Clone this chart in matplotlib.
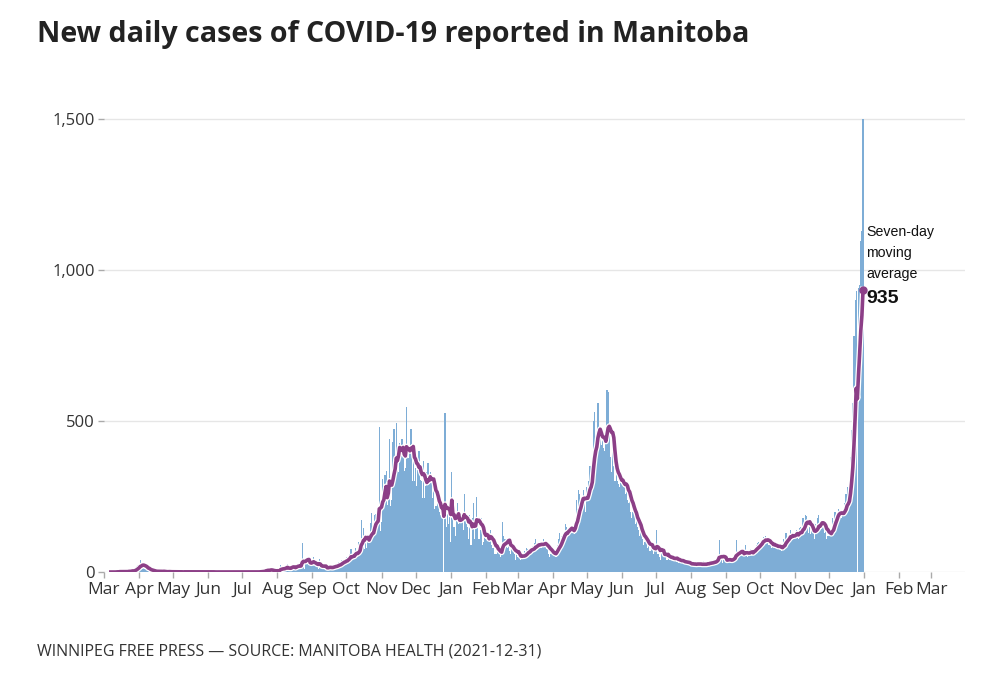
import numpy as np
import pandas as pd
import matplotlib
matplotlib.use("Agg")
import matplotlib.pyplot as plt
import matplotlib.patheffects as pe

# ---- data: new daily cases ----
mar20 = [0,0,0,0,0,0,0,0,0,0, 0,3,1,0,4,0,0,0,2,3, 1,3,5,2,1,9,3,3,16,20, 24]
apr20 = [21,40,15,22,18,11,12,6,9,8, 2,4,3,2,2,0,4,1,5,0, 1,3,2,1,0,0,2,1,1,1]
may20 = [1,0,2,0,1,0,0,1,0,0, 2,0,1,0,0,1,0,0,0,3, 0,1,0,0,1,0,0,0,1,0, 2]
jun20 = [0,1,0,0,0,0,0,0,0,1, 0,0,0,0,0,2,0,0,0,1, 0,0,0,0,0,0,1,0,0,0]
jul20 = [0,0,0,0,1,0,0,0,0,0, 0,1,0,0,0,1,3,5,0,2, 4,12,7,10,1,9,5,0,4,3, 2]
aug20 = [7,3,14,23,12,11,5,13,16,28, 6,9,10,22,26,16,13,17,25,18, 21,31,96,40,11,29,44,35,36,22, 30]
sep20 = [22,50,26,23,15,11,44,15,13,16, 22,14,12,7,14,20,19,18,14,21, 17,20,25,33,30,22,39,32,43,35]
oct20 = [51,38,49,60,76,40,50,54,80,72, 58,99,81,173,102,147,77,124,80,100, 111,163,194,117,140,190,192,152,193,480, 135]
nov20 = [164,307,242,320,335,221,242,442,218,237, 432,474,343,494,386,331,427,398,440,412, 336,346,546,392,379,399,474,300,420,300]
dec20 = [343,285,380,400,305,300,245,366,245,285, 330,360,290,331,309,246,290,208,220,250, 235,198,190,190,230,0,525,150,210,160, 190]
jan21 = [100,330,190,150,120,170,230,160,180,190, 170,140,260,170,160,150,110,190,90,180, 230,110,160,250,160,110,140,180,90,100, 120]
feb21 = [110,130,120,100,140,90,80,80,60,60, 90,80,60,50,60,166,120,110,100,80, 90,70,60,100,90,60,40,70]
mar21 = [50,60,50,40,55,45,70,60,80,75, 70,65,80,85,70,95,110,80,90,100, 85,80,95,110,90,100,75,60,50,60, 85]
apr21 = [60,65,55,50,90,110,130,100,120,120, 115,160,150,130,140,145,150,140,130,125, 180,240,210,270,260,210,240,270,250,200]
may21 = [280,260,300,350,330,360,500,530,430,400, 560,450,440,420,440,410,400,470,603,595, 460,380,330,400,350,300,340,300,290,280, 330]
jun21 = [290,300,280,260,300,240,230,250,200,180, 200,210,160,170,150,140,120,140,110,90, 100,120,100,80,90,70,80,90,60,80]
jul21 = [70,140,60,50,40,80,70,60,50,60, 40,50,40,55,45,50,40,35,50,45, 30,40,35,30,35,40,30,25,35,30, 25]
aug21 = [20,25,30,20,35,25,30,20,25,30, 15,35,25,30,20,35,30,25,40,30, 35,30,40,45,50,105,40,45,30,45, 40]
sep21 = [35,40,45,50,30,35,45,50,60,105, 70,55,50,65,70,60,55,90,55,50, 60,70,75,65,70,80,70,90,95,100]
oct21 = [90,100,110,115,105,120,95,100,90,95, 80,85,90,100,80,85,75,80,85,70, 90,110,100,130,115,120,100,140,110,130, 120]
nov21 = [120,140,130,110,145,150,120,180,160,190, 185,170,130,150,125,140,130,110,160,150, 180,190,140,170,150,160,130,140,110,120]
dec21 = [120,130,140,180,170,200,200,190,210,190, 200,180,190,200,230,260,280,240,240,380, 470,560,780,900,930,0,940,950,1095,1130, 1500]

month_starts = ["2020-03-01","2020-04-01","2020-05-01","2020-06-01","2020-07-01","2020-08-01",
                "2020-09-01","2020-10-01","2020-11-01","2020-12-01","2021-01-01","2021-02-01",
                "2021-03-01","2021-04-01","2021-05-01","2021-06-01","2021-07-01","2021-08-01",
                "2021-09-01","2021-10-01","2021-11-01","2021-12-01"]
monthly_cases = [mar20, apr20, may20, jun20, jul20, aug20, sep20, oct20, nov20, dec20,
                 jan21, feb21, mar21, apr21, may21, jun21, jul21, aug21, sep21, oct21, nov21, dec21]

tick_labels = ["Mar","Apr","May","Jun","Jul","Aug","Sep","Oct","Nov","Dec","Jan","Feb",
               "Mar","Apr","May","Jun","Jul","Aug","Sep","Oct","Nov","Dec","Jan","Feb","Mar"]
y_ticks = [0, 500, 1000, 1500]
latest_avg_label = "935"

# ---- build series ----
parts = []
for start, vals in zip(month_starts, monthly_cases):
    idx = pd.date_range(start, periods=len(vals), freq="D")
    parts.append(pd.Series(vals, index=idx, dtype=float))
cases = pd.concat(parts)
avg7 = cases.rolling(7).mean()

BAR = "#7eadd6"
LINE = "#8c3f87"

plt.rcParams["font.family"] = ["Open Sans", "DejaVu Sans"]
fig = plt.figure(figsize=(10, 6.92), dpi=100)
ax = fig.add_axes([0.104, 0.1734, 0.861, 0.6763])

ax.bar(cases.index, cases.values, width=1.0, color=BAR, linewidth=0, zorder=2)
ax.plot(avg7.index, avg7.values, color=LINE, lw=2.6, zorder=3,
        solid_joinstyle="round",
        path_effects=[pe.Stroke(linewidth=4.4, foreground="white"), pe.Normal()])
last_date = avg7.index[-1]
last_val = avg7.values[-1]
ax.plot([last_date], [last_val], "o", color=LINE, ms=5, zorder=4)

xmin = pd.Timestamp("2020-03-01")
xmax = pd.Timestamp("2022-03-31")
ax.set_xlim(xmin, xmax)
ax.set_ylim(0, 1550)

tick_dates = pd.date_range("2020-03-01", periods=len(tick_labels), freq="MS")
ax.set_xticks(tick_dates)
ax.set_xticklabels(tick_labels)
ax.set_yticks(y_ticks)
ax.set_yticklabels([f"{v:,}" for v in y_ticks])
ax.tick_params(axis="x", length=4, width=1, color="#aaaaaa", labelsize=12.5,
               labelcolor="#333333", pad=3)
ax.tick_params(axis="y", length=4, width=1, color="#aaaaaa", labelsize=12,
               labelcolor="#333333", pad=2.5)
ax.grid(axis="y", color="#e6e6e6", lw=1, zorder=0)
ax.set_axisbelow(True)
for s in ax.spines.values():
    s.set_visible(False)

# annotation
tx = last_date + pd.Timedelta(days=3)
ax.text(tx, 1150, "Seven-day\nmoving\naverage", fontsize=10.2,
        family=["Liberation Sans", "DejaVu Sans"], color="#111111",
        va="top", ha="left", linespacing=1.65, zorder=5)
ax.text(tx, last_val - 30, latest_avg_label, fontsize=14, fontweight="bold",
        family=["Liberation Sans", "DejaVu Sans"], color="#111111",
        va="center", ha="left", zorder=5)

fig.text(0.037, 0.950, "New daily cases of COVID-19 reported in Manitoba",
         fontsize=20.6, fontweight="bold", color="#222222", va="center", ha="left")
fig.text(0.037, 0.058, "WINNIPEG FREE PRESS \u2014 SOURCE: MANITOBA HEALTH (2021-12-31)",
         fontsize=11.5, color="#333333", va="center", ha="left")

fig.savefig("out.png", dpi=100, facecolor="white")
